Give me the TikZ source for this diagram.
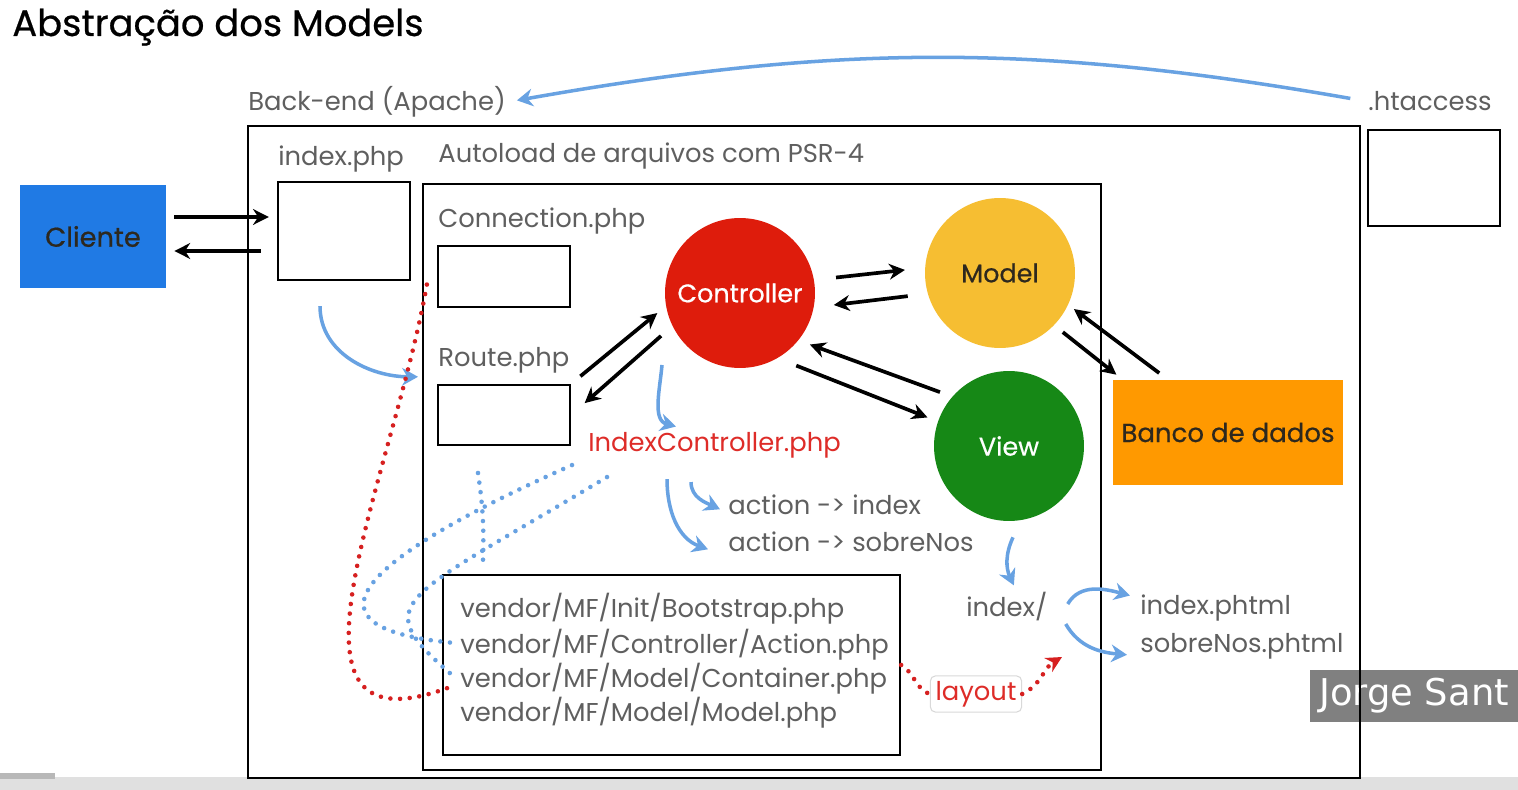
\documentclass[tikz,border=0pt]{standalone}
\usepackage{fontspec}
\setmainfont{Poppins}
\newfontfamily\medfont[FakeBold=0.6]{Poppins}
\newfontfamily\wmfont{DejaVu Sans}
\usepackage{xcolor}
\usetikzlibrary{arrows.meta, positioning, calc}
\definecolor{TextGray}{RGB}{95, 95, 95}
\definecolor{DarkText}{RGB}{45, 40, 30}
\definecolor{ClienteBlue}{RGB}{32, 122, 228}
\definecolor{CtrlRed}{RGB}{222, 28, 12}
\definecolor{ModelYellow}{RGB}{246, 190, 50}
\definecolor{ViewGreen}{RGB}{22, 136, 22}
\definecolor{BancoOrange}{RGB}{255, 153, 0}
\definecolor{FlowBlue}{RGB}{104, 162, 226}
\definecolor{DotRed}{RGB}{214, 32, 32}
\definecolor{FileRed}{RGB}{222, 44, 40}
\definecolor{WmGray}{RGB}{128, 128, 128}

\begin{document}
\begin{tikzpicture}[
    x=0.02cm, y=-0.02cm,
    font=\fontsize{14.7}{17}\selectfont,
    txt/.style={anchor=base west, inner sep=0pt, text=TextGray},
    box/.style={draw=black, line width=1.3pt, inner sep=0pt},
    ball/.style={circle, minimum size=3cm, inner sep=0pt, font=\medfont\fontsize{14.5}{17}\selectfont},
    arr/.style={-{Stealth[length=9pt,width=9pt]}, line width=2.1pt, color=black},
    flow/.style={-{Stealth[length=9pt,width=10pt]}, line width=2pt, color=FlowBlue},
    reddots/.style={line width=2.6pt, dash pattern=on 0pt off 5.5pt, line cap=round, color=DotRed},
    bluedots/.style={line width=2.6pt, dash pattern=on 0pt off 5.5pt, line cap=round, color=FlowBlue}
]
\useasboundingbox (0,0) rectangle (1518,790);
\fill[white] (0,0) rectangle (1518,790);
\fill[black!12] (0,777) rectangle (1518,790);
\fill[black!28] (0,773) rectangle (55,779);

% Watermark
\node[fill=WmGray, text=white, minimum width=4.16cm, minimum height=1.04cm, font=\wmfont\fontsize{21}{24}\selectfont] (jorge) at (1414,696) {Jorge Sant};

% Frames
\node[box, minimum width=22.24cm, minimum height=13.04cm] (backend) at (804,452) {};
\node[box, minimum width=2.64cm, minimum height=1.92cm] (htbox) at (1434,178) {};
\node[box, minimum width=2.64cm, minimum height=1.96cm] (phpbox) at (344,231) {};
\node[box, minimum width=13.56cm, minimum height=11.72cm] (autoload) at (762,477) {};
\node[box, minimum width=2.64cm, minimum height=1.22cm] (connbox) at (504,276.5) {};
\node[box, minimum width=2.64cm, minimum height=1.2cm] (routebox) at (504,415) {};
\node[box, minimum width=9.14cm, minimum height=3.6cm] (vendor) at (671.5,665) {};

% Blocks
\node[fill=ClienteBlue, minimum width=2.92cm, minimum height=2.06cm, text=DarkText, font=\medfont\fontsize{15.5}{18}\selectfont] (cliente) at (93,236.5) {Cliente};
\node[ball, fill=CtrlRed, text=white] (controller) at (740,293) {Controller};
\node[ball, fill=ModelYellow, text=DarkText] (model) at (1000,273) {Model};
\node[ball, fill=ViewGreen, text=white] (view) at (1009,446) {View};
\node[fill=BancoOrange, minimum width=4.6cm, minimum height=2.1cm, text=DarkText, font=\medfont\fontsize{14.8}{17}\selectfont] (banco) at (1228,432.5) {Banco de dados};

% Labels
\node[txt, text=black, font=\medfont\fontsize{21}{24}\selectfont] (title) at (12,36) {Abstração dos Models};
\node[txt] (backlbl) at (248,111) {Back-end (Apache)};
\node[txt] (htlbl) at (1368,111) {.htaccess};
\node[txt] (phplbl) at (278,166) {index.php};
\node[txt] (autoloadlbl) at (438,163) {Autoload de arquivos com PSR-4};
\node[txt] (connlbl) at (438,228) {Connection.php};
\node[txt] (routelbl) at (438,367) {Route.php};
\node[txt, text=FileRed] (ctrlfile) at (588,452) {IndexController.php};
\node[txt] (actindex) at (728,514) {action -> index};
\node[txt] (actsobre) at (728,551) {action -> sobreNos};
\node[txt] (viewdir) at (966,616) {index/};
\node[txt] (phtmlindex) at (1140,614) {index.phtml};
\node[txt] (phtmlsobre) at (1140,652) {sobreNos.phtml};
\node[txt] (vline1) at (460,617) {vendor/MF/Init/Bootstrap.php};
\node[txt] (vline2) at (460,653) {vendor/MF/Controller/Action.php};
\node[txt] (vline3) at (460,687) {vendor/MF/Model/Container.php};
\node[txt] (vline4) at (460,721) {vendor/MF/Model/Model.php};
\node[draw=black!15, line width=0.6pt, rounded corners=3pt, inner sep=3pt, text=FileRed] (layout) at (976,694) {layout};

\coordinate (layoutend) at (1062,657);
\coordinate (crossA) at (478,473);
\coordinate (crossB) at (483,560);

% Paths
\draw[arr, shorten <=0.16cm, shorten >=0.16cm] ($(cliente.east)+(0,-19.5)$) -- ($(cliente.east -| phpbox.west)+(0,-19.5)$);
\draw[arr, shorten <=0.32cm, shorten >=0.16cm] ($(cliente.east -| phpbox.west)+(0,14.5)$) -- ($(cliente.east)+(0,14.5)$);

\draw[arr, shorten <=0.44cm, shorten >=0.4cm] (controller.10) -- (model.176);
\draw[arr, shorten <=0.4cm, shorten >=0.4cm] (model.196) -- (controller.349);
\draw[arr, shorten <=0.24cm, shorten >=0.22cm] (routebox.north east) -- (controller.190);
\draw[arr, shorten <=0.3cm, shorten >=0.36cm] (controller.206) -- (routebox.east);
\draw[arr, shorten <=0.26cm, shorten >=0.24cm] (view.139) -- (controller.321);
\draw[arr, shorten <=0.4cm, shorten >=0.22cm] (controller.300) -- (view.161);
\draw[arr, shorten <=0.22cm, shorten >=0.16cm] (model.316) -- ([xshift=0.2cm]banco.north west);
\draw[arr, shorten <=0.22cm, shorten >=0.14cm] ([xshift=-1.2cm]banco.north) -- (model.335);

\draw[flow, shorten <=0.36cm, shorten >=0.22cm] (htlbl.west) to[bend right=10] (backlbl.east);
\draw[flow] ($(phpbox.south)+(-24,25)$) to[out=-90,in=180] ($(routelbl.west)+(-20,16)$);
\draw[flow] ($(controller)+(-78,72)$) to[out=-95,in=165] ($(ctrlfile.north west)+(88,-6)$);
\draw[flow] ($(ctrlfile.south west)+(103,23)$) to[out=-90,in=155] ($(actindex.west)+(-8,5)$);
\draw[flow] ($(ctrlfile.south west)+(79,20)$) to[out=-90,in=160] ($(actsobre.west)+(-20,8)$);
\draw[flow] ($(view.south)+(4,16)$) to[out=-115,in=115] ($(viewdir.north)+(7,-6)$);
\draw[flow] ($(viewdir.east)+(20,-2)$) to[out=60,in=165] ($(phtmlindex.west)+(-10,-12)$);
\draw[flow] ($(viewdir.east)+(18,18)$) to[out=-60,in=175] ($(phtmlsobre.west)+(-13,9)$);

\draw[reddots] (vendor.east) to[out=-30,in=160] (layout.west);
\draw[reddots, -{Stealth[length=9pt,width=9pt]}] (layout.east) to[out=25,in=-150] (layoutend);
\draw[reddots] ($(vline3.west)+(-13,10)$) .. controls +(200:4cm) and +(-100:4cm) .. ($(connbox.west)+(-10,8)$);

\draw[bluedots] ($(ctrlfile.south west)+(-16,6)$) .. controls +(204:4.6cm) and +(175:3.4cm) .. ($(vline2.west)+(-3,-1)$);
\draw[bluedots] ($(ctrlfile.south west)+(19,18)$) .. controls +(211:4.8cm) and +(139:2.2cm) .. ($(vline3.west)+(-10,-5)$);
\draw[bluedots] (crossA) to[bend left=5] (crossB);

\end{tikzpicture}
\end{document}
